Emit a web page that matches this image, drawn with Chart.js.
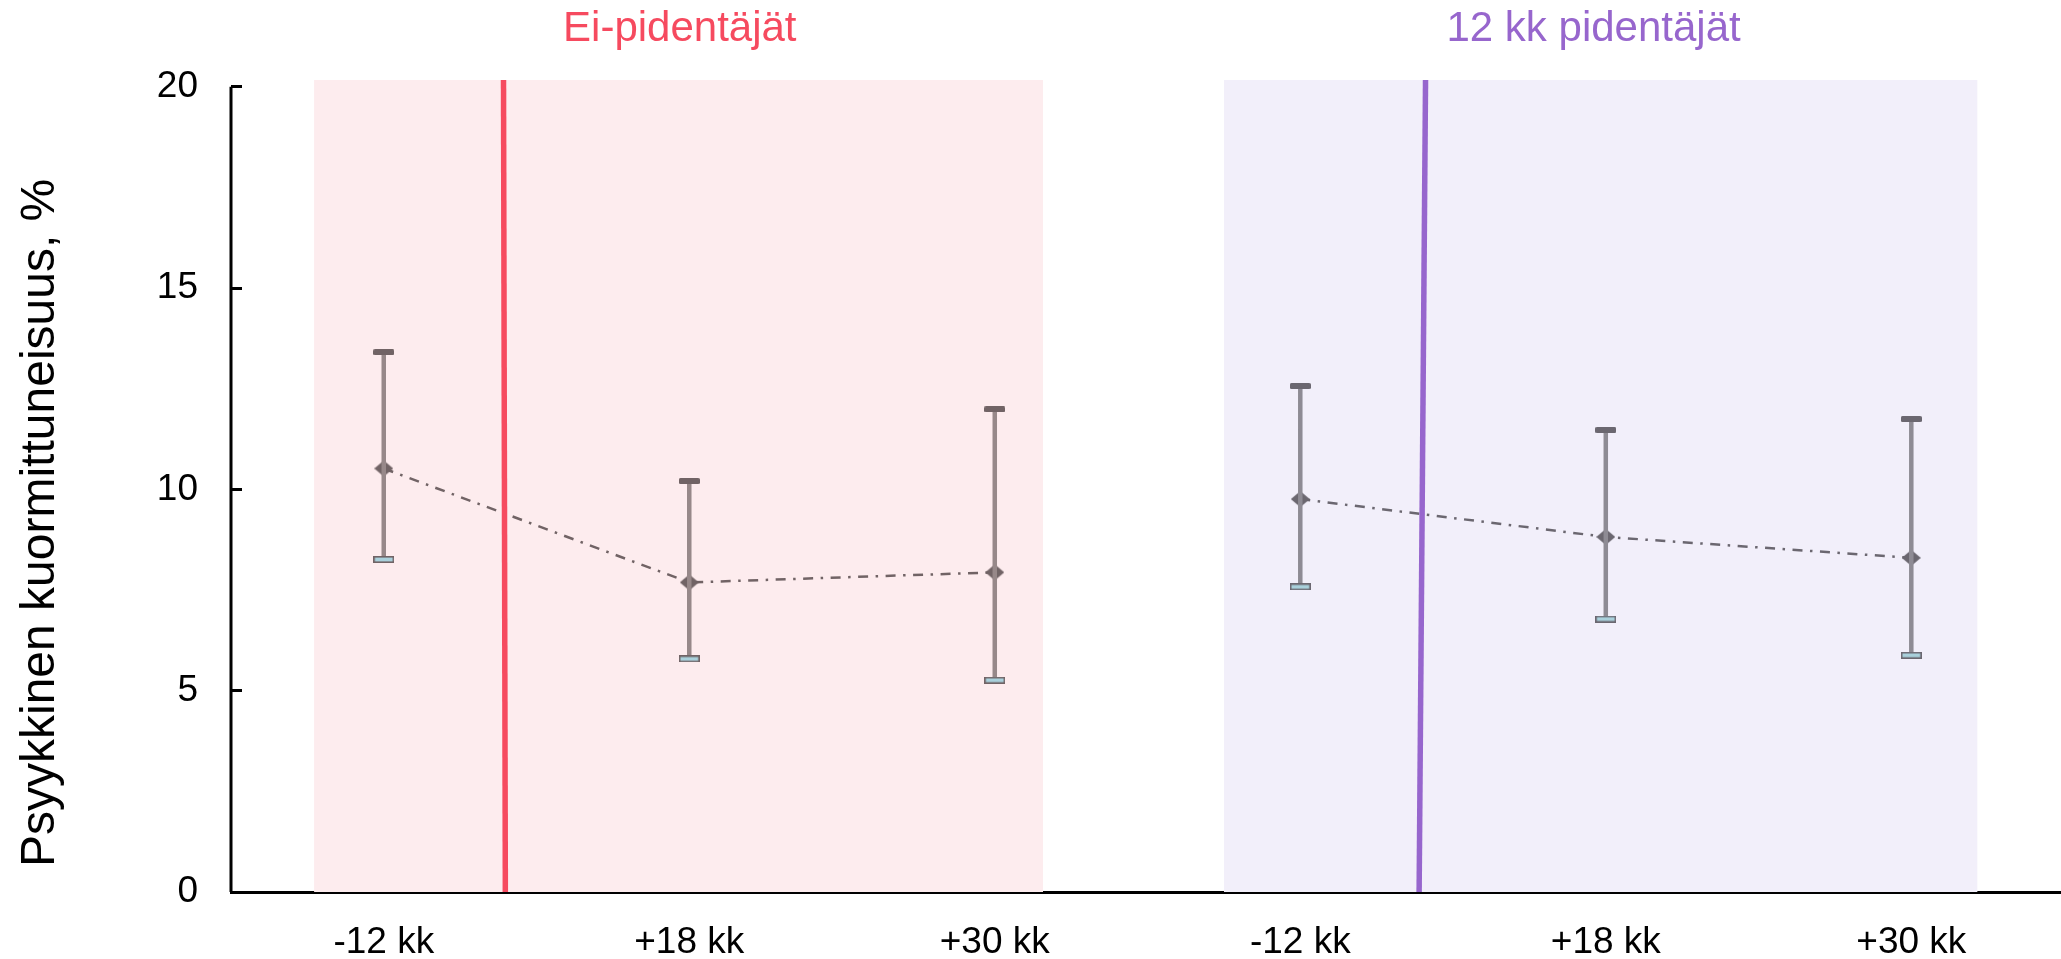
<!DOCTYPE html>
<html><head><meta charset="utf-8">
<script src="https://cdn.jsdelivr.net/npm/chart.js@4.4.1/dist/chart.umd.min.js"></script>
<style>html,body{margin:0;padding:0;background:#fff;overflow:hidden;} canvas{display:block;}</style>
</head><body>
<canvas id="c" width="2061" height="959"></canvas>
<script>
// ---- data ----
const categories = ['-12 kk', '+18 kk', '+30 kk'];
const groupNames = ['Ei-pidentäjät', '12 kk pidentäjät'];
const yAxisTitle = 'Psyykkinen kuormittuneisuus, %';
const xTickValues = [0, 1, 2, 3, 4, 5];
const xTickLabels = [...categories, ...categories];
const yTickValues = [0, 5, 10, 15, 20];
const xPosEi = [0, 1, 2];
const xPos12 = [3, 4, 5];
const meanEi = [10.52, 7.69, 7.94];
const upperEi = [13.41, 10.21, 11.99];
const lowerEi = [8.26, 5.79, 5.26];
const mean12 = [9.76, 8.82, 8.30];
const upper12 = [12.57, 11.48, 11.75];
const lower12 = [7.58, 6.78, 5.88];
const bandEi = [-0.228, 2.158];
const band12 = [2.750, 5.217];
const markerEi = [0.398, 0.392];   // x at bottom, x at top
const marker12 = [3.389, 3.410];
const titleCenters = [0.969, 3.96];
const xRange = [-0.5, 5.49];
const yRange = [0, 20.17];
const yAxisTop = 20;

// ---- styles ----
const FONT = "'Liberation Sans', Arial, sans-serif";
Chart.defaults.font.family = FONT;
const C = {
  bandEi: '#fdecee', band12: '#f2effa',
  lineEi: '#f64a5f', line12: '#9766cd',
  errEi: '#978889', err12: '#8e8b94',
  darkEi: '#716365', dark12: '#6b6770',
  capFill: '#a9d0db'
};

function makeLowCap(border) {
  const cv = document.createElement('canvas');
  cv.width = 21; cv.height = 7;
  const g = cv.getContext('2d');
  g.fillStyle = C.capFill;
  g.fillRect(1, 1, 19, 5);
  g.strokeStyle = border; g.lineWidth = 1.6;
  g.strokeRect(0.8, 0.8, 19.4, 5.4);
  return cv;
}
function makeHighCap(color) {
  const cv = document.createElement('canvas');
  cv.width = 21; cv.height = 6;
  const g = cv.getContext('2d');
  g.fillStyle = color;
  g.beginPath();
  if (g.roundRect) g.roundRect(0, 0, 21, 6, 1.5); else g.rect(0, 0, 21, 6);
  g.fill();
  return cv;
}
function makeDiamond(color) {
  const cv = document.createElement('canvas');
  cv.width = 19; cv.height = 16;
  const g = cv.getContext('2d');
  g.fillStyle = color;
  g.beginPath(); g.moveTo(9.5, 0); g.lineTo(19, 8); g.lineTo(9.5, 16); g.lineTo(0, 8); g.closePath(); g.fill();
  return cv;
}

const pts = (xs, ys) => xs.map((x, i) => ({x, y: ys[i]}));
const errSegments = (xs, lo, hi) => xs.flatMap((x, i) => [{x, y: lo[i]}, {x, y: hi[i]}, {x, y: null}]);

function groupDatasets(xs, mean, lo, hi, err, dark) {
  return [
    {type: 'line', data: pts(xs, mean), borderColor: dark, borderWidth: 2.5,
     borderDash: [10, 7.5, 2.5, 7.5], pointRadius: 0, fill: false, order: 6},
    {type: 'line', data: pts(xs, mean), showLine: false, pointStyle: makeDiamond(dark),
     pointRadius: 9, order: 5},
    {type: 'line', data: errSegments(xs, lo, hi), borderColor: err, borderWidth: 4.5,
     pointRadius: 0, spanGaps: false, fill: false, order: 4},
    {type: 'line', data: pts(xs, hi), showLine: false, pointStyle: makeHighCap(dark),
     pointRadius: 6, order: 3},
    {type: 'line', data: pts(xs, lo), showLine: false, pointStyle: makeLowCap(dark),
     pointRadius: 6, order: 3}
  ];
}

const datasets = [
  {type: 'line', data: [{x: bandEi[0], y: yRange[1]}, {x: bandEi[1], y: yRange[1]}],
   fill: 'origin', backgroundColor: C.bandEi, borderWidth: 0, pointRadius: 0, order: 20},
  {type: 'line', data: [{x: band12[0], y: yRange[1]}, {x: band12[1], y: yRange[1]}],
   fill: 'origin', backgroundColor: C.band12, borderWidth: 0, pointRadius: 0, order: 20},
  ...groupDatasets(xPosEi, meanEi, lowerEi, upperEi, C.errEi, C.darkEi),
  ...groupDatasets(xPos12, mean12, lower12, upper12, C.err12, C.dark12),
  {type: 'line', data: [{x: markerEi[0], y: yRange[0]}, {x: markerEi[1], y: yRange[1]}],
   borderColor: C.lineEi, borderWidth: 5.5, pointRadius: 0, fill: false, order: 1},
  {type: 'line', data: [{x: marker12[0], y: yRange[0]}, {x: marker12[1], y: yRange[1]}],
   borderColor: C.line12, borderWidth: 5.5, pointRadius: 0, fill: false, order: 1},
  // y axis line (from 0 to the top tick)
  {type: 'line', data: [{x: xRange[0], y: yRange[0]}, {x: xRange[0], y: yAxisTop}],
   borderColor: '#000', borderWidth: 3, pointRadius: 0, fill: false, clip: false, order: 0}
];

const textPlugin = {
  id: 'texts',
  afterDraw(chart) {
    const {ctx} = chart;
    const xs = chart.scales.x;
    ctx.save();
    ctx.font = '42px ' + FONT;
    ctx.textAlign = 'center';
    ctx.textBaseline = 'alphabetic';
    const cols = [C.lineEi, C.line12];
    groupNames.forEach((n, i) => {
      ctx.fillStyle = cols[i];
      ctx.fillText(n, xs.getPixelForValue(titleCenters[i]), 41);
    });
    ctx.fillStyle = '#000';
    ctx.font = '48px ' + FONT;
    ctx.textAlign = 'left';
    ctx.translate(54, 867);
    ctx.rotate(-Math.PI / 2);
    ctx.fillText(yAxisTitle, 0, 0);
    ctx.restore();
  }
};

new Chart(document.getElementById('c'), {
  type: 'line',
  data: {datasets},
  plugins: [textPlugin],
  options: {
    responsive: false,
    devicePixelRatio: 1,
    animation: false,
    events: [],
    layout: {autoPadding: false, padding: {top: 80, left: 0, right: 0, bottom: 0}},
    plugins: {legend: {display: false}, tooltip: {enabled: false}, title: {display: false}},
    scales: {
      x: {
        type: 'linear', min: xRange[0], max: xRange[1],
        afterFit: s => { s.height = 67; },
        afterBuildTicks: s => { s.ticks = xTickValues.map(v => ({value: v})); },
        grid: {drawOnChartArea: false, drawTicks: true, tickLength: -7, tickColor: '#6a6a6a', tickWidth: 2},
        border: {display: true, color: '#000', width: 3},
        ticks: {
          autoSkip: false, maxRotation: 0, padding: 36, color: '#000',
          font: {size: 37, family: FONT},
          callback: v => { const i = xTickValues.indexOf(v); return i >= 0 ? xTickLabels[i] : ''; }
        }
      },
      y: {
        type: 'linear', min: yRange[0], max: yRange[1],
        afterFit: s => { s.width = 231; },
        afterBuildTicks: s => { s.ticks = yTickValues.map(v => ({value: v})); },
        grid: {drawOnChartArea: false, drawTicks: true, tickLength: -11, tickColor: '#000', tickWidth: 3},
        border: {display: false},
        ticks: {padding: 44, color: '#000', font: {size: 37, family: FONT}}
      }
    }
  }
});
</script>
</body></html>
